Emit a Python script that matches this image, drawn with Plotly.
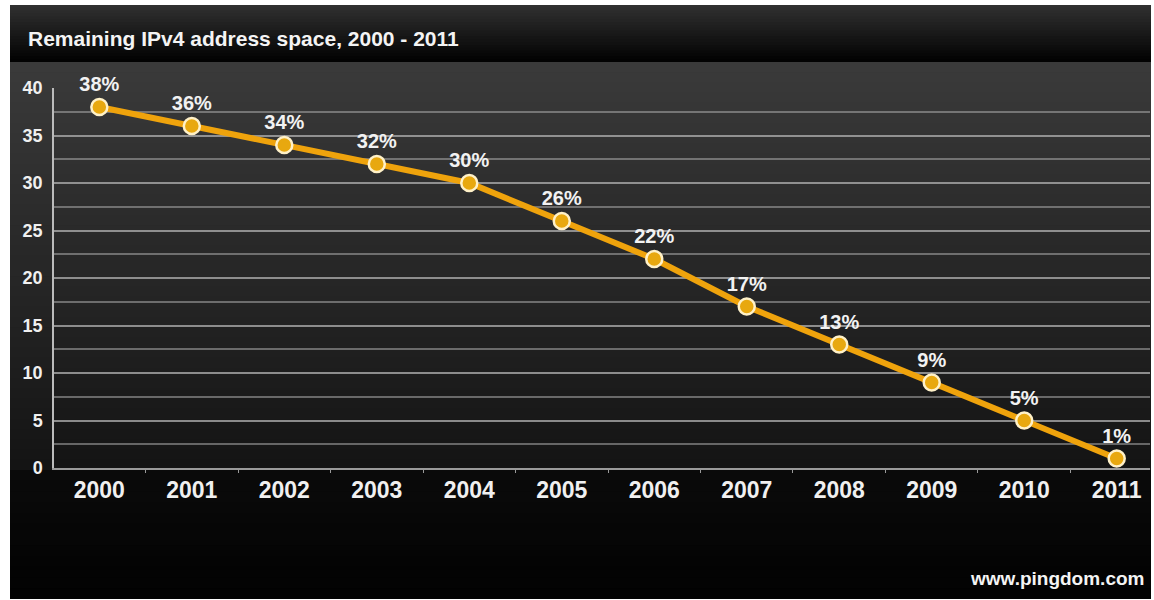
import plotly.graph_objects as go

years = ["2000", "2001", "2002", "2003", "2004", "2005",
         "2006", "2007", "2008", "2009", "2010", "2011"]
remaining = [38, 36, 34, 32, 30, 26, 22, 17, 13, 9, 5, 1]
labels = [f"{v}%" for v in remaining]
y_ticks = [0, 5, 10, 15, 20, 25, 30, 35, 40]

W, H = 1154, 600
L, R, T, B = 54, 4, 88, 132
PW, PH = W - L - R, H - T - B

def px(x):
    return (x - L) / PW

def py(y):
    return (H - B - y) / PH

shapes = []

def band(x0, x1, y0, y1, c):
    shapes.append(dict(type="rect", xref="paper", yref="paper",
                       x0=px(x0), x1=px(x1), y0=py(y1), y1=py(y0),
                       fillcolor=c, line=dict(width=0), layer="below"))

def grad(x0, x1, y0, y1, c0, c1, n):
    # each band runs to the bottom of the region so no seams appear
    for i in range(n):
        t = i / max(n - 1, 1)
        c = tuple(round(c0[k] + (c1[k] - c0[k]) * t) for k in range(3))
        ya = y0 + (y1 - y0) * i / n
        band(x0, x1, ya, y1, "rgb(%d,%d,%d)" % c)

# body gradient
grad(10, 1151, 62, 470, (58, 58, 58), (20, 20, 20), 40)
grad(10, 1151, 470, 599, (10, 10, 10), (2, 2, 2), 12)
# title bar
grad(10, 1151, 5, 62, (48, 48, 48), (2, 2, 2), 20)

fig = go.Figure()
fig.add_trace(go.Scatter(
    x=years, y=remaining, text=labels,
    mode="lines+markers+text",
    line=dict(color="#EFA30C", width=6),
    marker=dict(size=16, color="#E8A80F",
                line=dict(color="#FFF1C8", width=2.5)),
    textposition="top center",
    textfont=dict(family="Liberation Sans", size=20, color="#F2F2F2",
                  weight="bold"),
    cliponaxis=False,
    hoverinfo="skip",
))

fig.update_layout(
    width=W, height=H,
    margin=dict(l=L, r=R, t=T, b=B),
    paper_bgcolor="white",
    plot_bgcolor="rgba(0,0,0,0)",
    showlegend=False,
    shapes=shapes,
    font=dict(family="Liberation Sans", color="#EEEEEE"),
    xaxis=dict(
        type="category", range=[-0.49, 11.36],
        showgrid=False, zeroline=False,
        showline=True, linecolor="#9A9A9A", linewidth=2,
        tickson="boundaries", ticks="outside", ticklen=3,
        tickcolor="#9A9A9A",
        tickfont=dict(size=23, color="#F0F0F0", weight="bold"),
        fixedrange=True,
    ),
    yaxis=dict(
        range=[0, 40], tickvals=y_ticks,
        showgrid=True, gridcolor="rgba(170,170,170,0.55)", gridwidth=1.5,
        minor=dict(dtick=2.5, showgrid=True,
                   gridcolor="rgba(170,170,170,0.55)", gridwidth=1.5),
        zeroline=False,
        showline=True, linecolor="#BBBBBB", linewidth=1.5,
        ticks="", ticklabelstandoff=6,
        tickfont=dict(size=18, color="#F0F0F0", weight="bold"),
        fixedrange=True,
    ),
    annotations=[
        dict(text="Remaining IPv4 address space, 2000 - 2011",
             xref="paper", yref="paper", x=px(26), y=py(38),
             xanchor="left", yanchor="middle", showarrow=False,
             font=dict(size=21, color="#F4F4F4", weight="bold")),
        dict(text="www.pingdom.com",
             xref="paper", yref="paper", x=px(1146), y=py(578),
             xanchor="right", yanchor="middle", showarrow=False,
             font=dict(size=19, color="#F4F4F4", weight="bold")),
    ],
)

fig.write_html("out.html", config=dict(displayModeBar=False))
